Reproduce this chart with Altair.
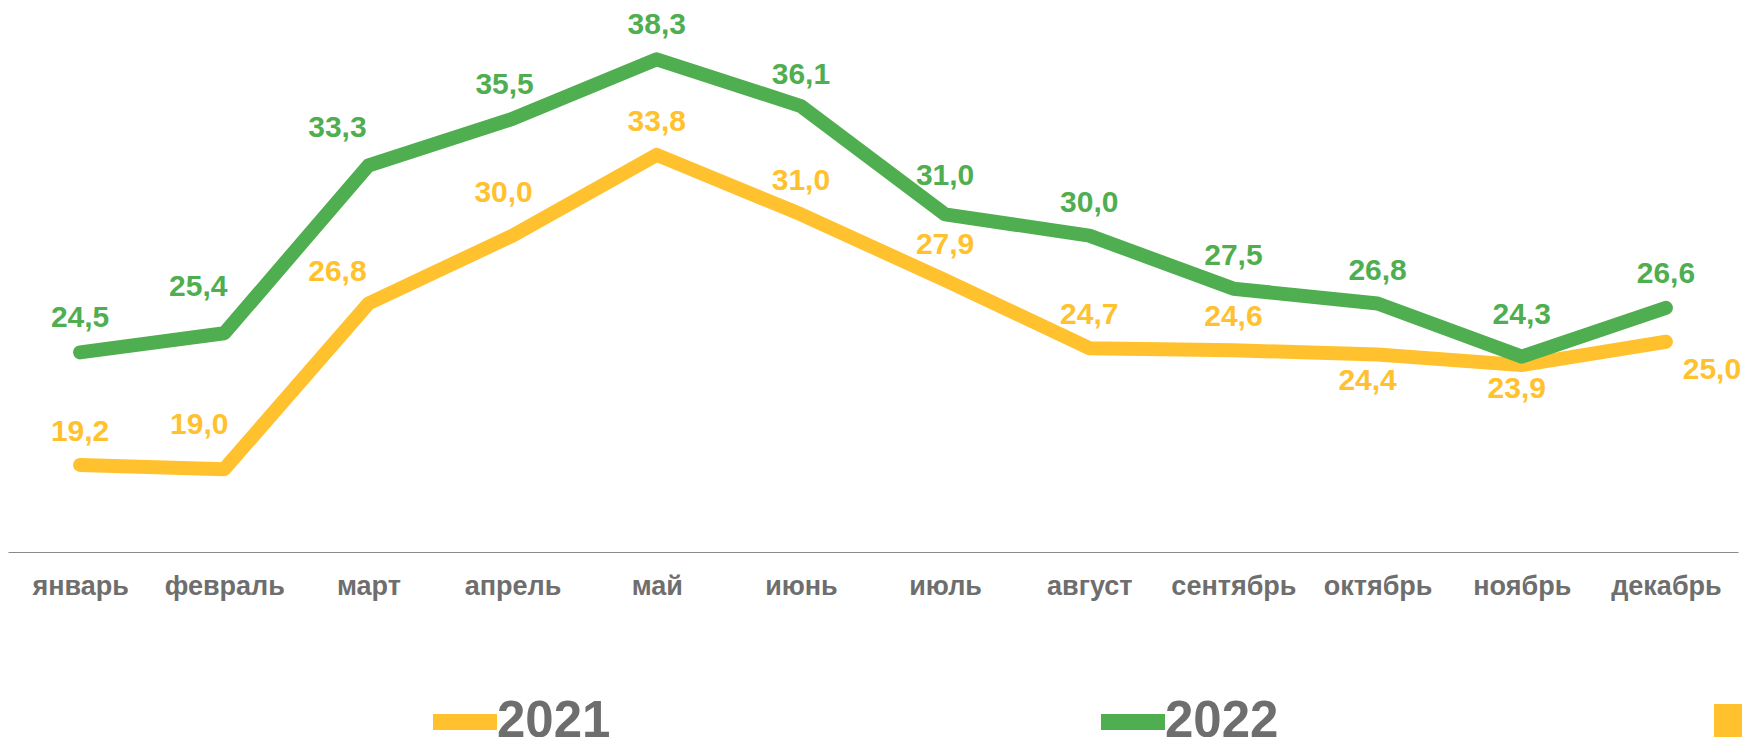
import altair as alt
import pandas as pd

months = ["январь", "февраль", "март", "апрель", "май", "июнь",
          "июль", "август", "сентябрь", "октябрь", "ноябрь", "декабрь"]
years = ["2021", "2022"]
v2021 = [19.2, 19.0, 26.8, 30.0, 33.8, 31.0, 27.9, 24.7, 24.6, 24.4, 23.9, 25.0]
v2022 = [24.5, 25.4, 33.3, 35.5, 38.3, 36.1, 31.0, 30.0, 27.5, 26.8, 24.3, 26.6]
colors = ["#FFC22E", "#4FAE4F"]

rows = []
for yr, vals in zip(years, [v2021, v2022]):
    for m, v in zip(months, vals):
        rows.append({"month": m, "year": yr, "value": v})
df = pd.DataFrame(rows)

FONT = "Liberation Sans"
GREY = "#6e6e6e"

color_scale = alt.Scale(domain=years, range=colors)

base = alt.Chart(df).encode(
    x=alt.X("month:N", sort=months, scale=alt.Scale(type="point", padding=0.5),
            axis=alt.Axis(title=None, ticks=False, grid=False, domainColor="#8a8a8a",
                          domainWidth=1.2, labelFont=FONT, labelFontSize=27,
                          labelFontWeight="bold", labelColor=GREY, labelPadding=21,
                          labelAngle=0)),
    y=alt.Y("value:Q", scale=alt.Scale(domain=[15.1, 40.34], nice=False, zero=False),
            axis=None),
)

lines = base.mark_line(strokeWidth=14, strokeCap="round", strokeJoin="round").encode(
    color=alt.Color("year:N", scale=color_scale,
                    legend=alt.Legend(orient="none", legendX=409, legendY=666,
                                      direction="horizontal", title=None,
                                      symbolType="M-0.75,0L1.25,0", symbolStrokeWidth=16,
                                      symbolSize=4096, labelFont=FONT,
                                      labelFontSize=51, labelFontWeight="bold",
                                      labelColor=GREY, labelOffset=0,
                                      columnPadding=458, padding=0)),
    detail="year:N",
)

label_base = base.transform_calculate(
    label="replace(format(datum.value, '.1f'), '.', ',')"
)


def labels(year, subset, dx, dy):
    cond = " || ".join("datum.month == '%s'" % m for m in subset)
    return label_base.transform_filter(
        "datum.year == '%s' && (%s)" % (year, cond)
    ).mark_text(dx=dx, dy=dy, font=FONT, fontSize=30, fontWeight="bold",
                align="center", baseline="middle").encode(
        text="label:N", color=alt.Color("year:N", scale=color_scale, legend=None))


label_layers = [
    labels("2022", ["январь", "май", "декабрь"], 0, -34),
    labels("2022", ["август", "сентябрь", "октябрь"], 0, -33),
    labels("2022", ["июнь"], 0, -31),
    labels("2022", ["июль"], 0, -38),
    labels("2022", ["ноябрь"], 0, -42),
    labels("2022", ["февраль"], -26, -46),
    labels("2022", ["март"], -31, -38),
    labels("2022", ["апрель"], -8, -34),
    labels("2021", ["январь", "май", "июнь", "август", "сентябрь"], 0, -33),
    labels("2021", ["июль"], 0, -35),
    labels("2021", ["февраль"], -25, -44),
    labels("2021", ["март"], -31, -32),
    labels("2021", ["апрель"], -9, -43),
    labels("2021", ["октябрь"], -10, 26),
    labels("2021", ["ноябрь"], -5, 24),
    labels("2021", ["декабрь"], 46, 28),
]

corner = alt.Chart(pd.DataFrame({"k": [0]})).mark_rect(color="#FFC22E").encode(
    x=alt.value(1706), x2=alt.value(1770), y=alt.value(688), y2=alt.value(780))

chart = alt.layer(lines, *label_layers, corner).properties(
    width=1730, height=536,
    autosize=alt.AutoSizeParams(type="none"),
    padding={"left": 0, "top": 8, "right": 4, "bottom": 185},
).configure_view(stroke=None)

chart.save("out.html", embed_options={"renderer": "svg", "actions": False})
